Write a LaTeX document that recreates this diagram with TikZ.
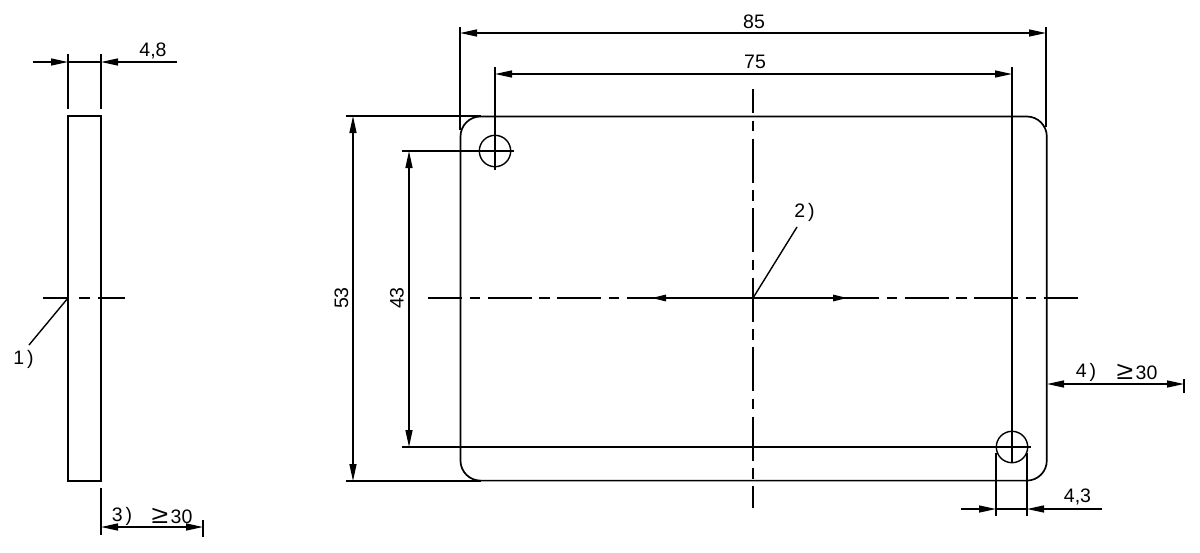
\documentclass[tikz,border=0pt]{standalone}
\usepackage{fontspec}
\setmainfont{Liberation Sans}
\usetikzlibrary{arrows.meta}
\newcommand{\geqmark}{\raisebox{-0.5pt}{\scalebox{1.55}[1.3]{≥}}\kern2.5pt}
\tikzset{
  part/.style={line width=1.4pt},
  dimline/.style={line width=1.4pt,{Triangle[length=17pt,width=7pt]}-{Triangle[length=17pt,width=7pt]}},
  dimright/.style={line width=1.4pt,-{Triangle[length=17pt,width=7pt]}},
  centerarrow/.style={line width=1.4pt,-{Triangle[length=14pt,width=6.5pt]}},
  centerline/.style={line width=1.4pt,dash pattern=on 44pt off 7.5pt on 10.5pt off 7.5pt},
  dimtext/.style={inner sep=0pt,font=\fontsize{19.5}{21}\selectfont}
}
\begin{document}
\begin{tikzpicture}[x=1pt,y=-1pt]
    \useasboundingbox (0,0) rectangle (1200,552);
    % side view
    \draw[part] (68,116) rectangle (101,481);
    \draw[part,dash pattern=on 26pt off 10pt on 11pt off 8pt on 28pt] (43,298) -- (125,298);
    \foreach \x in {68, 101}
    { \draw[part] (\x,54) -- (\x,109); }
    \draw[part] (68,62) -- (101,62);
    \draw[dimright] (33,62) -- (68,62);
    \draw[dimright] (177,62) -- (101,62);
    \node[dimtext] (widthlabel) at (153,51) {4,8};
    \draw[part] (68,298) -- (29,345);
    \node[dimtext] (noteone) at (23.5,359) {1\kern3pt)};
    \draw[part] (101,488) -- (101,535);
    \draw[part] (203,520) -- (203,537);
    \draw[dimline] (101,527) -- (203,527);
    \node[dimtext] (notethree) at (122,516) {3\kern3pt)};
    \node[dimtext] (clearleft) at (172,516) {\geqmark 30};
    % front view
    \draw[line width=1.7pt,rounded corners=20pt] (460.5,116.5) rectangle (1046.8,480.6);
    \draw[part] (346,116) -- (481,116);
    \draw[part] (346,481) -- (481,481);
    \draw[part] (402,151) -- (514,151);
    \draw[part] (402,447) -- (1031,447);
    \draw[part] (495,151) circle (15.7);
    \draw[part] (1012,447) circle (15.7);
    % centre lines
    \draw[centerline,dash phase=10pt] (428,298) -- (1078,298);
    \draw[centerline,dash phase=20pt] (753,89) -- (753,508);
    \draw[part] (627,298) -- (879,298);
    \draw[centerarrow] (753,298) -- (652,298);
    \draw[centerarrow] (753,298) -- (847,298);
    \draw[part] (753,298) -- (797,227);
    \node[dimtext] (notetwo) at (804.5,212) {2\kern3pt)};
    % dimensions
    \draw[part] (460,27) -- (460,130);
    \draw[part] (1046,27) -- (1046,127);
    \draw[dimline] (460,33) -- (1046,33);
    \node[dimtext] (outerwidth) at (754,22) {85};
    \draw[part] (495,67) -- (495,170);
    \draw[part] (1012,67) -- (1012,463);
    \draw[dimline] (495,74) -- (1012,74);
    \node[dimtext] (holewidth) at (755,62) {75};
    \draw[dimline] (353,116) -- (353,481);
    \node[dimtext,rotate=90] (outerheight) at (341.5,298) {53};
    \draw[dimline] (409,151) -- (409,447);
    \node[dimtext,rotate=90] (holeheight) at (397,298) {43};
    \foreach \x in {996, 1027}
    { \draw[part] (\x,453) -- (\x,516); }
    \draw[part] (996,509) -- (1027,509);
    \draw[dimright] (961,509) -- (996,509);
    \draw[dimright] (1102,509) -- (1027,509);
    \node[dimtext] (holesize) at (1077.5,497) {4,3};
    \draw[part] (1184,379) -- (1184,393);
    \draw[dimline] (1047,384) -- (1184,384);
    \node[dimtext] (notefour) at (1086,372) {4\kern3pt)};
    \node[dimtext] (clearright) at (1137,372) {\geqmark 30};
  \end{tikzpicture}
\end{document}
